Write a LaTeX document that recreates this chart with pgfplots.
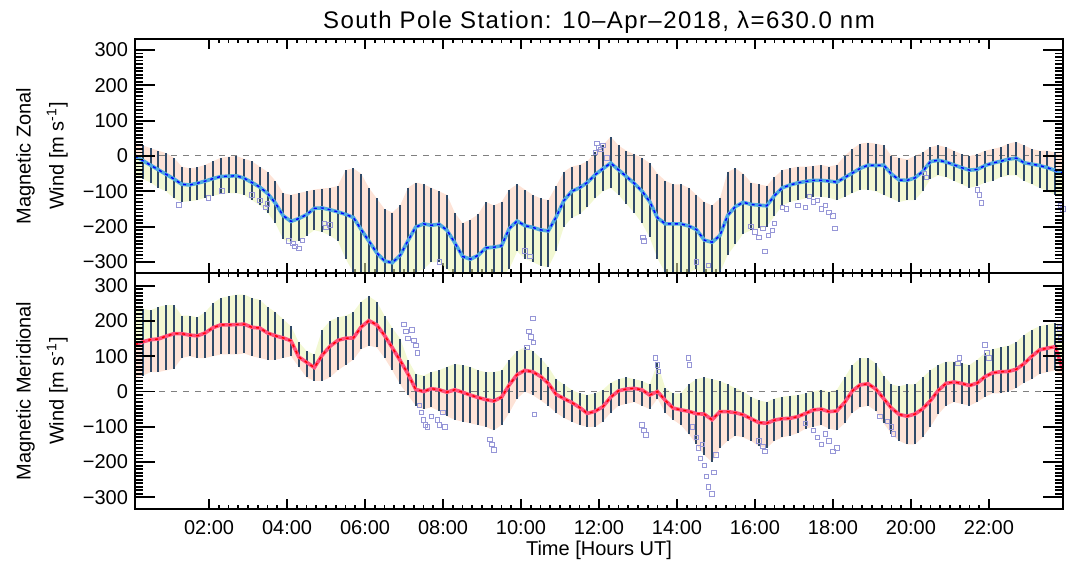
\documentclass[border=0pt]{standalone}
\usepackage{pgfplots}
\pgfplotsset{compat=1.18}
\usepackage{pgfplotstable}
\usepgfplotslibrary{fillbetween}
\usepackage{fontspec}
\setmainfont{Liberation Sans}
\newfontfamily\titlefont[LetterSpace=6]{Liberation Sans}
\definecolor{barcol}{RGB}{48,74,104}
\definecolor{peach}{RGB}{252,200,175}
\definecolor{paleyel}{RGB}{232,242,175}
\definecolor{lav}{RGB}{150,150,215}
\definecolor{lblue}{RGB}{80,170,225}
\definecolor{pinkl}{RGB}{255,80,125}

\pgfplotstableread{
t zc zhi zlo mc mhi mlo
0.1 0 36 -60 133 235 40
0.3 -13 30 -65 141 235 45
0.5 -26 22 -75 147 230 55
0.7 -39 15 -90 149 240 55
0.9 -52 8 -100 157 245 60
1.1 -65 -5 -120 164 245 65
1.3 -80 -30 -130 164 215 95
1.5 -82 -35 -128 160 215 100
1.7 -77 -32 -125 158 210 95
1.9 -71 -25 -118 166 225 95
2.1 -64 -15 -112 181 250 100
2.3 -58 -5 -108 189 265 105
2.5 -57 -2 -105 189 270 105
2.7 -56 0 -105 190 275 105
2.9 -63 -8 -110 191 275 108
3.1 -75 -15 -125 182 265 100
3.3 -88 -30 -140 180 260 95
3.5 -106 -45 -160 166 240 90
3.7 -133 -70 -190 158 225 90
3.9 -169 -105 -235 152 205 95
4.1 -185 -110 -245 144 185 100
4.3 -177 -105 -240 98 140 70
4.5 -166 -100 -225 83 115 40
4.7 -148 -95 -210 68 105 30
4.9 -147 -92 -215 103 175 30
5.1 -152 -90 -225 128 200 40
5.3 -158 -85 -240 145 210 60
5.5 -165 -40 -290 151 215 75
5.7 -174 -35 -330 152 225 90
5.9 -208 -50 -340 183 255 120
6.1 -241 -90 -340 201 270 130
6.3 -274 -120 -340 189 255 125
6.5 -297 -150 -340 159 215 95
6.7 -302 -160 -340 124 180 60
6.9 -281 -140 -340 88 150 20
7.1 -240 -90 -340 50 90 -10
7.3 -201 -75 -330 6 50 -40
7.5 -192 -80 -320 0 45 -50
7.7 -196 -90 -300 8 55 -45
7.9 -193 -100 -300 5 60 -55
8.1 -210 -110 -320 -2 70 -70
8.3 -245 -160 -340 5 78 -80
8.5 -284 -190 -340 -2 75 -85
8.7 -292 -180 -340 -10 70 -90
8.9 -281 -165 -340 -17 60 -95
9.1 -260 -130 -340 -23 55 -100
9.3 -258 -140 -340 -27 55 -110
9.5 -254 -130 -340 -16 60 -95
9.7 -205 -95 -320 19 90 -60
9.9 -184 -80 -270 48 115 -20
10.1 -197 -95 -290 60 125 0
10.3 -202 -110 -300 56 115 -10
10.5 -209 -120 -310 43 95 -25
10.7 -212 -125 -315 23 70 -40
10.9 -173 -85 -270 -8 35 -60
11.1 -126 -45 -200 -20 20 -75
11.3 -100 -30 -175 -31 5 -85
11.5 -90 -25 -165 -45 -5 -95
11.7 -75 -15 -145 -62 -10 -100
11.9 -53 10 -120 -56 -5 -100
12.1 -36 30 -100 -43 5 -85
12.3 -20 55 -90 -16 25 -60
12.5 -39 30 -110 2 35 -40
12.7 -58 15 -135 7 40 -35
12.9 -77 5 -160 9 35 -30
13.1 -99 -5 -190 5 30 -40
13.3 -129 -20 -230 -10 20 -50
13.5 -175 -50 -290 0 80 -20
13.7 -192 -70 -330 -25 10 -60
13.9 -192 -80 -330 -47 -5 -80
14.1 -192 -80 -330 -52 -5 -95
14.3 -198 -90 -330 -56 20 -120
14.5 -208 -110 -320 -63 35 -150
14.7 -238 -130 -340 -64 40 -180
14.9 -244 -140 -340 -80 35 -200
15.1 -225 -120 -330 -57 30 -160
15.3 -168 -45 -280 -57 20 -140
15.5 -143 -35 -250 -60 10 -125
15.7 -131 -50 -220 -66 0 -130
15.9 -137 -75 -210 -77 -15 -140
16.1 -139 -80 -205 -88 -25 -155
16.3 -141 -85 -200 -90 -30 -160
16.5 -112 -60 -170 -81 -20 -140
16.7 -90 -40 -140 -77 -15 -130
16.9 -82 -35 -130 -76 -12 -125
17.1 -76 -30 -125 -71 -10 -118
17.3 -72 -30 -120 -62 -5 -105
17.5 -69 -28 -115 -52 0 -100
17.7 -69 -25 -115 -50 5 -95
17.9 -71 -30 -118 -57 0 -105
18.1 -74 -25 -125 -55 5 -110
18.3 -61 0 -115 -31 40 -90
18.5 -48 20 -105 2 75 -60
18.7 -35 35 -95 19 95 -45
18.9 -26 38 -95 22 95 -40
19.1 -27 35 -100 7 80 -55
19.3 -26 30 -110 -20 45 -90
19.5 -51 0 -120 -47 20 -120
19.7 -68 -5 -130 -65 15 -140
19.9 -69 -10 -125 -70 20 -150
20.1 -62 0 -125 -64 20 -150
20.3 -44 10 -100 -49 40 -130
20.5 -16 25 -65 -26 60 -100
20.7 -12 30 -55 3 75 -65
20.9 -17 25 -60 23 85 -40
21.1 -25 15 -70 27 85 -30
21.3 -33 5 -80 23 80 -35
21.5 -40 0 -90 17 75 -40
21.7 -38 5 -85 24 90 -30
21.9 -27 15 -75 42 110 -15
22.1 -20 20 -70 53 120 -5
22.3 -15 25 -60 56 125 -5
22.5 -9 35 -55 57 130 0
22.7 -6 40 -55 63 140 10
22.9 -19 30 -70 79 160 25
23.1 -23 20 -80 100 175 35
23.3 -27 15 -90 118 185 50
23.5 -33 15 -100 123 190 55
23.7 -41 10 -110 127 195 60
23.9 -49 5 -115 60 190 40
}\data

\pgfplotstableread{
t v
1.23 -138
1.98 -119
2.33 -99
3.10 -110
3.30 -125
3.45 -145
3.50 -135
4.05 -240
4.15 -248
4.20 -256
4.30 -262
4.40 -238
4.95 -190
5.00 -202
5.10 -195
7.90 -300
10.10 -268
10.23 -284
11.90 10
11.95 35
12.00 25
12.05 18
12.10 30
12.20 -5
13.13 -230
13.15 -240
14.50 -300
14.80 -310
15.90 -200
16.00 -215
16.10 -230
16.20 -205
16.25 -270
16.35 -225
16.45 -210
16.50 -190
16.70 -145
16.80 -150
17.10 -140
17.30 -145
17.40 -115
17.50 -130
17.60 -125
17.70 -150
17.80 -140
17.90 -160
18.00 -170
18.05 -205
20.35 -50
20.40 -60
21.70 -96
21.75 -110
21.80 -133
23.85 -140
23.90 -150
}\zout

\pgfplotstableread{
t v
7.00 190
7.05 170
7.10 150
7.20 175
7.25 145
7.30 130
7.35 110
7.40 -40
7.45 -60
7.50 -80
7.55 -95
7.60 -100
7.70 -70
7.85 -80
7.90 -95
8.00 -60
8.05 -100
9.20 -135
9.25 -150
9.30 -165
10.15 125
10.20 170
10.25 155
10.30 208
10.32 140
10.35 -65
13.10 -95
13.15 -110
13.20 -123
13.45 95
13.50 75
13.52 57
14.30 95
14.32 76
14.40 -100
14.50 -130
14.55 -160
14.60 -190
14.65 -150
14.70 -210
14.75 -240
14.80 -270
14.90 -290
14.95 -230
15.00 -180
16.10 -140
16.20 -155
16.25 -170
17.30 -90
17.50 -110
17.60 -130
17.70 -150
17.80 -120
17.90 -140
18.00 -170
18.10 -160
19.20 -70
19.40 -85
19.50 -100
19.55 -120
21.20 80
21.25 95
21.90 132
21.95 110
22.00 95
23.80 180
23.85 150
}\mout

\pgfplotsset{
  panel/.style={scale only axis, width=464pt, xmin=0.1, xmax=23.9,
    axis line style={line width=1.1pt},
    every tick/.style={black, line width=0.9pt},
    tick align=inside, tick pos=both},
  ylabstyle/.style={every axis y label/.style={at={(axis description cs:0,0.5)},
    xshift=-46.5pt, rotate=90, anchor=center, align=center,
    font=\fontsize{10}{16.5}\selectfont}},
  barstyle/.style={draw=none, mark=none,
    error bars/.cd, y dir=both, y explicit, error mark=none,
    error bar style={draw=barcol, line width=1.0pt}},
}

\begin{document}
\begin{tikzpicture}

% ---------- top panel: data ----------
\begin{axis}[panel, at={(0,0)}, anchor=south west, height=117pt,
  ymin=-331, ymax=331,
  xtick={2,4,...,22}, minor x tick num=7, xticklabels={}, ytick=\empty,
  major tick length=5pt, minor tick length=2pt,
  every axis title shift=0pt,
  title={\titlefont South Pole Station: 10–Apr–2018, λ=630.0 nm},
  title style={at={(axis description cs:0.5,1)}, anchor=base, yshift=5pt,
    font=\fontsize{12}{14}\selectfont}]
  \addplot[name path=zh, draw=none] table[x=t,y=zhi]{\data};
  \addplot[name path=zc, draw=none] table[x=t,y=zc]{\data};
  \addplot[name path=zl, draw=none] table[x=t,y=zlo]{\data};
  \addplot[fill=peach, draw=none, fill opacity=0.5] fill between[of=zh and zc];
  \addplot[fill=paleyel, draw=none, fill opacity=0.55] fill between[of=zc and zl];
  \addplot[gray, dashed, line width=0.5pt] coordinates {(0.1,0) (23.9,0)};
  \addplot[barstyle]
    table[x=t, y=zc, y error plus expr={\thisrow{zhi}-\thisrow{zc}},
          y error minus expr={\thisrow{zc}-\thisrow{zlo}}]{\data};
  \addplot[only marks, mark=square, mark size=1.1pt, lav,
    mark options={line width=0.4pt}] table[x=t,y=v]{\zout};
  \addplot[lblue, line width=1.8pt] table[x=t,y=zc]{\data};
  \addplot[blue, line width=0.7pt, dash pattern=on 1.5pt off 2pt] table[x=t,y=zc]{\data};
\end{axis}

% ---------- top panel: y ticks ----------
\begin{axis}[panel, ylabstyle, at={(0,0)}, anchor=south west, height=117pt,
  ymin=-331, ymax=331, xtick=\empty,
  ytick={-300,-200,...,300}, minor y tick num=9,
  yticklabels={−300,−200,−100,0,100,200,300},
  yticklabel style={font=\fontsize{10}{12}\selectfont},
  major tick length=10pt, minor tick length=4pt,
  ylabel={Magnetic Zonal\\Wind [m s\textsuperscript{-1}]}]
  \addplot[draw=none] coordinates {(0.1,0) (23.9,0)};
\end{axis}

% ---------- bottom panel: data ----------
\begin{axis}[panel, at={(0,0)}, anchor=north west, height=118pt,
  ymin=-333, ymax=336,
  xtick={2,4,...,22}, minor x tick num=7,
  xticklabels={02:00,04:00,06:00,08:00,10:00,12:00,14:00,16:00,18:00,20:00,22:00},
  xticklabel style={anchor=base, yshift=-13pt, font=\fontsize{10}{12}\selectfont},
  ytick=\empty,
  major tick length=5pt, minor tick length=2pt,
  xlabel={Time [Hours UT]},
  every axis x label/.style={at={(axis description cs:0.5,0)}, anchor=base,
    yshift=-23.5pt, font=\fontsize{10}{12}\selectfont}]
  \addplot[name path=mh, draw=none] table[x=t,y=mhi]{\data};
  \addplot[name path=mc, draw=none] table[x=t,y=mc]{\data};
  \addplot[name path=ml, draw=none] table[x=t,y=mlo]{\data};
  \addplot[fill=paleyel, draw=none, fill opacity=0.55] fill between[of=mh and mc];
  \addplot[fill=peach, draw=none, fill opacity=0.5] fill between[of=mc and ml];
  \addplot[gray, dashed, line width=0.5pt] coordinates {(0.1,0) (23.9,0)};
  \addplot[barstyle]
    table[x=t, y=mc, y error plus expr={\thisrow{mhi}-\thisrow{mc}},
          y error minus expr={\thisrow{mc}-\thisrow{mlo}}]{\data};
  \addplot[only marks, mark=square, mark size=1.1pt, lav,
    mark options={line width=0.4pt}] table[x=t,y=v]{\mout};
  \addplot[pinkl, line width=1.8pt] table[x=t,y=mc]{\data};
  \addplot[red, line width=0.7pt, dash pattern=on 1.5pt off 2pt] table[x=t,y=mc]{\data};
\end{axis}

% ---------- bottom panel: y ticks ----------
\begin{axis}[panel, ylabstyle, at={(0,0)}, anchor=north west, height=118pt,
  ymin=-333, ymax=336, xtick=\empty,
  ytick={-300,-200,...,300}, minor y tick num=9,
  yticklabels={−300,−200,−100,0,100,200,300},
  yticklabel style={font=\fontsize{10}{12}\selectfont},
  major tick length=10pt, minor tick length=4pt,
  ylabel={Magnetic Meridional\\Wind [m s\textsuperscript{-1}]}]
  \addplot[draw=none] coordinates {(0.1,0) (23.9,0)};
\end{axis}

\pgfresetboundingbox
\path[use as bounding box] (-67.5pt,-144.5pt) rectangle (467.5pt,136.5pt);
\end{tikzpicture}
\end{document}
